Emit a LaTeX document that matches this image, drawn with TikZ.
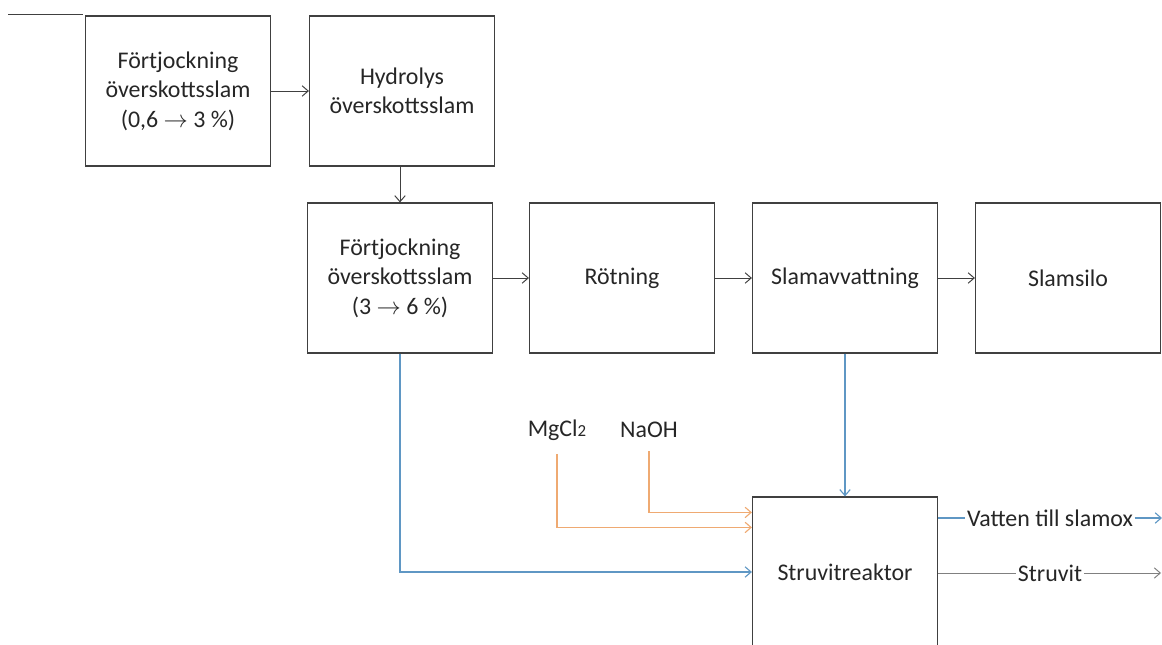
\documentclass[tikz,border=0pt]{standalone}
\usepackage{fontspec}
\setmainfont{Carlito}
\usepackage{xcolor}
\usetikzlibrary{arrows.meta,positioning,calc}
\definecolor{linegray}{HTML}{404040}
\definecolor{txtgray}{HTML}{262626}
\definecolor{flowblue}{HTML}{5F97C4}
\definecolor{chemorange}{HTML}{EFAA72}
\begin{document}
\begin{tikzpicture}[x=0.025cm,y=-0.025cm,font=\fontsize{17}{21}\selectfont,text=txtgray,
  >={Straight Barb[length=1.5mm,width=2.6mm]},
  box/.style={draw=linegray,line width=0.8pt,minimum width=4.625cm,minimum height=3.75cm,align=center,inner sep=2pt},
  pipe/.style={draw=linegray,line width=0.7pt},
  flow/.style={draw=flowblue,line width=0.8pt},
  chem/.style={draw=chemorange,line width=0.8pt},
  tag/.style={inner sep=1pt}]
\useasboundingbox (0,0) rectangle (1162,644);
% top row
\node[box] (fa) at (178,91) {Förtjockning\\överskottsslam\\(0,6 $\rightarrow$ 3 \%)};
\node[box] (hy) at (402,91) {Hydrolys\\överskottsslam};
% middle row
\node[box] (fb) at (400,278) {Förtjockning\\överskottsslam\\(3 $\rightarrow$ 6 \%)};
\node[box] (rot) at (622,278) {Rötning};
\node[box] (avv) at (845,278) {Slamavvattning};
\node[box] (silo) at (1068,278) {Slamsilo};
% struvit
\node[box] (reak) at (845,572) {Struvitreaktor};
\node (mg) at (557,430) {MgCl{\fontsize{12}{12}\selectfont 2}};
\node (na) at (649,430) {NaOH};
\node[tag] (vat) at (1050,518) {Vatten till slamox};
\node[tag] (stv) at (1050,573) {Struvit};
\coordinate (vout) at (1162,518);
\coordinate (sout) at (1161,573);
\draw[pipe] (8,14) -- (83,14);
\draw[pipe,->] (fa) -- (hy);
\draw[pipe,->] (fb.north |- hy.south) -- (fb.north);
\draw[pipe,->] (fb) -- (rot);
\draw[pipe,->] (rot) -- (avv);
\draw[pipe,->] (avv) -- (silo);
\draw[flow,->] (fb.south) |- (reak.west);
\draw[flow,->] (avv) -- (reak);
\draw[chem,->] ([yshift=-6pt]na.south) |- ($(reak.north west)+(0,16)$);
\draw[chem,->] ([yshift=-6pt]mg.south) |- ($(reak.north west)+(0,31)$);
\draw[flow] (reak.east |- vat) -- (vat.west);
\draw[flow,->] (vat.east) -- (vout);
\draw[pipe,draw=gray] (reak.east |- stv) -- (stv.west);
\draw[pipe,draw=gray,->] (stv.east) -- (sout);
\end{tikzpicture}
\end{document}
